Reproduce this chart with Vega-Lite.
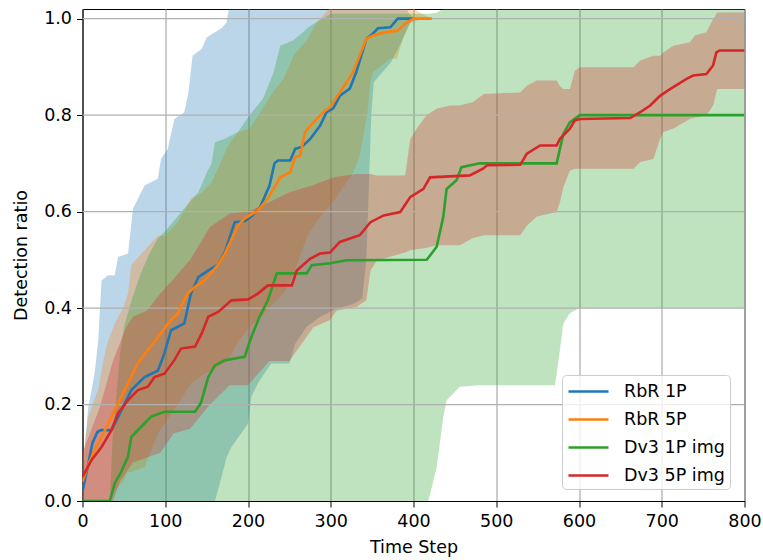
{
  "$schema": "https://vega.github.io/schema/vega-lite/v6.json",
  "width": 662,
  "height": 492,
  "autosize": {"type": "none"},
  "padding": {"left": 82.5, "top": 9, "right": 18.5, "bottom": 59},
  "config": {
    "font": "DejaVu Sans",
    "view": {"stroke": "black", "strokeWidth": 1},
    "axis": {
      "labelFont": "DejaVu Sans",
      "titleFont": "DejaVu Sans",
      "labelFontSize": 17.5,
      "titleFontSize": 17.5,
      "labelColor": "#000000",
      "titleColor": "#000000",
      "titleFontWeight": "normal",
      "domainColor": "#000000",
      "tickColor": "#000000",
      "tickSize": 6,
      "tickWidth": 1,
      "labelPadding": 5,
      "gridColor": "#b0b0b0",
      "gridWidth": 1.3,
      "gridOpacity": 1,
      "zindex": 1
    },
    "legend": {
      "labelFont": "DejaVu Sans",
      "labelFontSize": 17.5,
      "labelColor": "#000000"
    }
  },
  "datasets": {
    "ygrid": [{"g": 0.2}, {"g": 0.4}, {"g": 0.6}, {"g": 0.8}, {"g": 1.0}],
    "bands": [
      {"s": "RbR 1P", "x": 0, "lo": 0, "hi": 0.03},
      {"s": "RbR 1P", "x": 3, "lo": 0, "hi": 0.12},
      {"s": "RbR 1P", "x": 7, "lo": 0, "hi": 0.195},
      {"s": "RbR 1P", "x": 11, "lo": 0, "hi": 0.23},
      {"s": "RbR 1P", "x": 15, "lo": 0, "hi": 0.27},
      {"s": "RbR 1P", "x": 19, "lo": 0, "hi": 0.333},
      {"s": "RbR 1P", "x": 23, "lo": 0, "hi": 0.457},
      {"s": "RbR 1P", "x": 31, "lo": 0, "hi": 0.468},
      {"s": "RbR 1P", "x": 39, "lo": 0, "hi": 0.468},
      {"s": "RbR 1P", "x": 43, "lo": 0, "hi": 0.506},
      {"s": "RbR 1P", "x": 55, "lo": 0, "hi": 0.513},
      {"s": "RbR 1P", "x": 61, "lo": 0, "hi": 0.606},
      {"s": "RbR 1P", "x": 75, "lo": 0, "hi": 0.654},
      {"s": "RbR 1P", "x": 91, "lo": 0, "hi": 0.668},
      {"s": "RbR 1P", "x": 95, "lo": 0, "hi": 0.71},
      {"s": "RbR 1P", "x": 103, "lo": 0, "hi": 0.73},
      {"s": "RbR 1P", "x": 111, "lo": 0, "hi": 0.792},
      {"s": "RbR 1P", "x": 123, "lo": 0, "hi": 0.806},
      {"s": "RbR 1P", "x": 128, "lo": 0, "hi": 0.847},
      {"s": "RbR 1P", "x": 133, "lo": 0, "hi": 0.923},
      {"s": "RbR 1P", "x": 144, "lo": 0, "hi": 0.937},
      {"s": "RbR 1P", "x": 150, "lo": 0, "hi": 0.961},
      {"s": "RbR 1P", "x": 160, "lo": 0, "hi": 0.972},
      {"s": "RbR 1P", "x": 168, "lo": 0.05, "hi": 0.98},
      {"s": "RbR 1P", "x": 174, "lo": 0.09, "hi": 0.992},
      {"s": "RbR 1P", "x": 180, "lo": 0.112, "hi": 1.05},
      {"s": "RbR 1P", "x": 200, "lo": 0.16, "hi": 1.05},
      {"s": "RbR 1P", "x": 204, "lo": 0.216, "hi": 1.05},
      {"s": "RbR 1P", "x": 212, "lo": 0.244, "hi": 1.05},
      {"s": "RbR 1P", "x": 228, "lo": 0.285, "hi": 1.05},
      {"s": "RbR 1P", "x": 250, "lo": 0.285, "hi": 1.05},
      {"s": "RbR 1P", "x": 257, "lo": 0.326, "hi": 1.05},
      {"s": "RbR 1P", "x": 271, "lo": 0.361, "hi": 1.05},
      {"s": "RbR 1P", "x": 287, "lo": 0.382, "hi": 1.05},
      {"s": "RbR 1P", "x": 307, "lo": 0.399, "hi": 1.05},
      {"s": "RbR 1P", "x": 328, "lo": 0.409, "hi": 1.05},
      {"s": "RbR 1P", "x": 338, "lo": 0.42, "hi": 1.05},
      {"s": "RbR 1P", "x": 343, "lo": 0.5, "hi": 1.05},
      {"s": "RbR 1P", "x": 346, "lo": 0.65, "hi": 1.05},
      {"s": "RbR 1P", "x": 349, "lo": 0.8, "hi": 1.05},
      {"s": "RbR 1P", "x": 352, "lo": 0.868, "hi": 1.05},
      {"s": "RbR 1P", "x": 373, "lo": 0.91, "hi": 1.05},
      {"s": "RbR 1P", "x": 385, "lo": 0.95, "hi": 1.04},
      {"s": "RbR 1P", "x": 395, "lo": 0.99, "hi": 1.01},
      {"s": "RbR 1P", "x": 400, "lo": 1.0, "hi": 1.0},
      {"s": "RbR 5P", "x": 0, "lo": 0, "hi": 0.08},
      {"s": "RbR 5P", "x": 7, "lo": 0, "hi": 0.175},
      {"s": "RbR 5P", "x": 19, "lo": 0, "hi": 0.23},
      {"s": "RbR 5P", "x": 25, "lo": 0, "hi": 0.29},
      {"s": "RbR 5P", "x": 31, "lo": 0, "hi": 0.333},
      {"s": "RbR 5P", "x": 39, "lo": 0.02, "hi": 0.368},
      {"s": "RbR 5P", "x": 49, "lo": 0.04, "hi": 0.4},
      {"s": "RbR 5P", "x": 55, "lo": 0.06, "hi": 0.43},
      {"s": "RbR 5P", "x": 59, "lo": 0.06, "hi": 0.49},
      {"s": "RbR 5P", "x": 75, "lo": 0.07, "hi": 0.52},
      {"s": "RbR 5P", "x": 91, "lo": 0.14, "hi": 0.55},
      {"s": "RbR 5P", "x": 99, "lo": 0.16, "hi": 0.55},
      {"s": "RbR 5P", "x": 115, "lo": 0.2, "hi": 0.578},
      {"s": "RbR 5P", "x": 131, "lo": 0.244, "hi": 0.627},
      {"s": "RbR 5P", "x": 145, "lo": 0.26, "hi": 0.64},
      {"s": "RbR 5P", "x": 156, "lo": 0.27, "hi": 0.661},
      {"s": "RbR 5P", "x": 176, "lo": 0.29, "hi": 0.737},
      {"s": "RbR 5P", "x": 188, "lo": 0.33, "hi": 0.765},
      {"s": "RbR 5P", "x": 202, "lo": 0.36, "hi": 0.772},
      {"s": "RbR 5P", "x": 215, "lo": 0.38, "hi": 0.806},
      {"s": "RbR 5P", "x": 231, "lo": 0.41, "hi": 0.85},
      {"s": "RbR 5P", "x": 243, "lo": 0.43, "hi": 0.876},
      {"s": "RbR 5P", "x": 255, "lo": 0.47, "hi": 0.923},
      {"s": "RbR 5P", "x": 272, "lo": 0.55, "hi": 0.958},
      {"s": "RbR 5P", "x": 283, "lo": 0.58, "hi": 0.992},
      {"s": "RbR 5P", "x": 303, "lo": 0.62, "hi": 1.03},
      {"s": "RbR 5P", "x": 327, "lo": 0.68, "hi": 1.03},
      {"s": "RbR 5P", "x": 335, "lo": 0.716, "hi": 1.03},
      {"s": "RbR 5P", "x": 344, "lo": 0.8, "hi": 1.03},
      {"s": "RbR 5P", "x": 348, "lo": 0.868, "hi": 1.03},
      {"s": "RbR 5P", "x": 351, "lo": 0.889, "hi": 1.03},
      {"s": "RbR 5P", "x": 372, "lo": 0.917, "hi": 1.03},
      {"s": "RbR 5P", "x": 380, "lo": 0.917, "hi": 1.03},
      {"s": "RbR 5P", "x": 387, "lo": 0.958, "hi": 1.03},
      {"s": "RbR 5P", "x": 396, "lo": 0.99, "hi": 1.025},
      {"s": "RbR 5P", "x": 410, "lo": 1.0, "hi": 1.01},
      {"s": "RbR 5P", "x": 422, "lo": 1.0, "hi": 1.0},
      {"s": "Dv3 1P img", "x": 0, "lo": 0, "hi": 0},
      {"s": "Dv3 1P img", "x": 33, "lo": 0, "hi": 0},
      {"s": "Dv3 1P img", "x": 36, "lo": 0, "hi": 0.12},
      {"s": "Dv3 1P img", "x": 40, "lo": 0, "hi": 0.2},
      {"s": "Dv3 1P img", "x": 45, "lo": 0, "hi": 0.3},
      {"s": "Dv3 1P img", "x": 50, "lo": 0, "hi": 0.36},
      {"s": "Dv3 1P img", "x": 60, "lo": 0, "hi": 0.42},
      {"s": "Dv3 1P img", "x": 70, "lo": 0, "hi": 0.47},
      {"s": "Dv3 1P img", "x": 80, "lo": 0, "hi": 0.51},
      {"s": "Dv3 1P img", "x": 91, "lo": 0, "hi": 0.544},
      {"s": "Dv3 1P img", "x": 100, "lo": 0, "hi": 0.56},
      {"s": "Dv3 1P img", "x": 120, "lo": 0, "hi": 0.6},
      {"s": "Dv3 1P img", "x": 140, "lo": 0, "hi": 0.64},
      {"s": "Dv3 1P img", "x": 150, "lo": 0, "hi": 0.68},
      {"s": "Dv3 1P img", "x": 156, "lo": 0, "hi": 0.7},
      {"s": "Dv3 1P img", "x": 160, "lo": 0, "hi": 0.744},
      {"s": "Dv3 1P img", "x": 172, "lo": 0, "hi": 0.751},
      {"s": "Dv3 1P img", "x": 188, "lo": 0, "hi": 0.765},
      {"s": "Dv3 1P img", "x": 202, "lo": 0, "hi": 0.8},
      {"s": "Dv3 1P img", "x": 218, "lo": 0, "hi": 0.834},
      {"s": "Dv3 1P img", "x": 231, "lo": 0, "hi": 0.889},
      {"s": "Dv3 1P img", "x": 239, "lo": 0, "hi": 0.944},
      {"s": "Dv3 1P img", "x": 255, "lo": 0, "hi": 0.955},
      {"s": "Dv3 1P img", "x": 275, "lo": 0, "hi": 0.985},
      {"s": "Dv3 1P img", "x": 300, "lo": 0, "hi": 1.01},
      {"s": "Dv3 1P img", "x": 418, "lo": 0, "hi": 1.01},
      {"s": "Dv3 1P img", "x": 428, "lo": 0.07, "hi": 1.012},
      {"s": "Dv3 1P img", "x": 436, "lo": 0.174, "hi": 1.02},
      {"s": "Dv3 1P img", "x": 440, "lo": 0.209, "hi": 1.1},
      {"s": "Dv3 1P img", "x": 456, "lo": 0.237, "hi": 1.1},
      {"s": "Dv3 1P img", "x": 480, "lo": 0.24, "hi": 1.1},
      {"s": "Dv3 1P img", "x": 571, "lo": 0.24, "hi": 1.1},
      {"s": "Dv3 1P img", "x": 577, "lo": 0.313, "hi": 1.15},
      {"s": "Dv3 1P img", "x": 581, "lo": 0.368, "hi": 1.15},
      {"s": "Dv3 1P img", "x": 589, "lo": 0.389, "hi": 1.18},
      {"s": "Dv3 1P img", "x": 597, "lo": 0.397, "hi": 1.2},
      {"s": "Dv3 1P img", "x": 601, "lo": 0.4, "hi": 1.2},
      {"s": "Dv3 1P img", "x": 800, "lo": 0.4, "hi": 1.2},
      {"s": "Dv3 5P img", "x": 0, "lo": 0, "hi": 0.1},
      {"s": "Dv3 5P img", "x": 21, "lo": 0, "hi": 0.195},
      {"s": "Dv3 5P img", "x": 37, "lo": 0, "hi": 0.292},
      {"s": "Dv3 5P img", "x": 45, "lo": 0.04, "hi": 0.326},
      {"s": "Dv3 5P img", "x": 53, "lo": 0.06, "hi": 0.361},
      {"s": "Dv3 5P img", "x": 61, "lo": 0.08, "hi": 0.382},
      {"s": "Dv3 5P img", "x": 78, "lo": 0.09, "hi": 0.395},
      {"s": "Dv3 5P img", "x": 94, "lo": 0.1, "hi": 0.43},
      {"s": "Dv3 5P img", "x": 110, "lo": 0.14, "hi": 0.46},
      {"s": "Dv3 5P img", "x": 130, "lo": 0.15, "hi": 0.5},
      {"s": "Dv3 5P img", "x": 154, "lo": 0.2, "hi": 0.568},
      {"s": "Dv3 5P img", "x": 178, "lo": 0.24, "hi": 0.596},
      {"s": "Dv3 5P img", "x": 200, "lo": 0.24, "hi": 0.6},
      {"s": "Dv3 5P img", "x": 226, "lo": 0.29, "hi": 0.62},
      {"s": "Dv3 5P img", "x": 250, "lo": 0.29, "hi": 0.64},
      {"s": "Dv3 5P img", "x": 279, "lo": 0.36, "hi": 0.655},
      {"s": "Dv3 5P img", "x": 299, "lo": 0.375, "hi": 0.668},
      {"s": "Dv3 5P img", "x": 307, "lo": 0.395, "hi": 0.672},
      {"s": "Dv3 5P img", "x": 331, "lo": 0.402, "hi": 0.678},
      {"s": "Dv3 5P img", "x": 343, "lo": 0.416, "hi": 0.678},
      {"s": "Dv3 5P img", "x": 348, "lo": 0.478, "hi": 0.678},
      {"s": "Dv3 5P img", "x": 356, "lo": 0.499, "hi": 0.675},
      {"s": "Dv3 5P img", "x": 390, "lo": 0.515, "hi": 0.675},
      {"s": "Dv3 5P img", "x": 396, "lo": 0.52, "hi": 0.75},
      {"s": "Dv3 5P img", "x": 404, "lo": 0.522, "hi": 0.772},
      {"s": "Dv3 5P img", "x": 416, "lo": 0.525, "hi": 0.8},
      {"s": "Dv3 5P img", "x": 428, "lo": 0.53, "hi": 0.813},
      {"s": "Dv3 5P img", "x": 444, "lo": 0.53, "hi": 0.82},
      {"s": "Dv3 5P img", "x": 456, "lo": 0.53, "hi": 0.82},
      {"s": "Dv3 5P img", "x": 472, "lo": 0.545, "hi": 0.827},
      {"s": "Dv3 5P img", "x": 485, "lo": 0.551, "hi": 0.844},
      {"s": "Dv3 5P img", "x": 529, "lo": 0.551, "hi": 0.847},
      {"s": "Dv3 5P img", "x": 537, "lo": 0.571, "hi": 0.861},
      {"s": "Dv3 5P img", "x": 549, "lo": 0.59, "hi": 0.872},
      {"s": "Dv3 5P img", "x": 573, "lo": 0.599, "hi": 0.872},
      {"s": "Dv3 5P img", "x": 577, "lo": 0.62, "hi": 0.86},
      {"s": "Dv3 5P img", "x": 581, "lo": 0.65, "hi": 0.854},
      {"s": "Dv3 5P img", "x": 589, "lo": 0.685, "hi": 0.854},
      {"s": "Dv3 5P img", "x": 595, "lo": 0.689, "hi": 0.892},
      {"s": "Dv3 5P img", "x": 601, "lo": 0.689, "hi": 0.899},
      {"s": "Dv3 5P img", "x": 666, "lo": 0.689, "hi": 0.899},
      {"s": "Dv3 5P img", "x": 674, "lo": 0.703, "hi": 0.913},
      {"s": "Dv3 5P img", "x": 690, "lo": 0.709, "hi": 0.923},
      {"s": "Dv3 5P img", "x": 698, "lo": 0.751, "hi": 0.923},
      {"s": "Dv3 5P img", "x": 702, "lo": 0.765, "hi": 0.93},
      {"s": "Dv3 5P img", "x": 714, "lo": 0.772, "hi": 0.944},
      {"s": "Dv3 5P img", "x": 734, "lo": 0.792, "hi": 0.951},
      {"s": "Dv3 5P img", "x": 740, "lo": 0.795, "hi": 0.965},
      {"s": "Dv3 5P img", "x": 754, "lo": 0.799, "hi": 0.972},
      {"s": "Dv3 5P img", "x": 762, "lo": 0.82, "hi": 0.999},
      {"s": "Dv3 5P img", "x": 767, "lo": 0.854, "hi": 1.013},
      {"s": "Dv3 5P img", "x": 800, "lo": 0.854, "hi": 1.013}
    ],
    "lines": [
      {"s": "RbR 1P", "x": 0, "y": 0.02},
      {"s": "RbR 1P", "x": 5, "y": 0.06},
      {"s": "RbR 1P", "x": 12, "y": 0.12},
      {"s": "RbR 1P", "x": 18, "y": 0.143},
      {"s": "RbR 1P", "x": 22, "y": 0.147},
      {"s": "RbR 1P", "x": 35, "y": 0.147},
      {"s": "RbR 1P", "x": 47, "y": 0.188},
      {"s": "RbR 1P", "x": 59, "y": 0.23},
      {"s": "RbR 1P", "x": 75, "y": 0.257},
      {"s": "RbR 1P", "x": 91, "y": 0.27},
      {"s": "RbR 1P", "x": 99, "y": 0.306},
      {"s": "RbR 1P", "x": 107, "y": 0.354},
      {"s": "RbR 1P", "x": 123, "y": 0.368},
      {"s": "RbR 1P", "x": 131, "y": 0.43},
      {"s": "RbR 1P", "x": 140, "y": 0.464},
      {"s": "RbR 1P", "x": 152, "y": 0.478},
      {"s": "RbR 1P", "x": 164, "y": 0.49},
      {"s": "RbR 1P", "x": 172, "y": 0.516},
      {"s": "RbR 1P", "x": 184, "y": 0.578},
      {"s": "RbR 1P", "x": 196, "y": 0.58},
      {"s": "RbR 1P", "x": 204, "y": 0.59},
      {"s": "RbR 1P", "x": 214, "y": 0.607},
      {"s": "RbR 1P", "x": 226, "y": 0.654},
      {"s": "RbR 1P", "x": 232, "y": 0.7},
      {"s": "RbR 1P", "x": 236, "y": 0.706},
      {"s": "RbR 1P", "x": 251, "y": 0.706},
      {"s": "RbR 1P", "x": 257, "y": 0.73},
      {"s": "RbR 1P", "x": 265, "y": 0.734},
      {"s": "RbR 1P", "x": 275, "y": 0.75},
      {"s": "RbR 1P", "x": 287, "y": 0.778},
      {"s": "RbR 1P", "x": 295, "y": 0.806},
      {"s": "RbR 1P", "x": 303, "y": 0.814},
      {"s": "RbR 1P", "x": 311, "y": 0.84},
      {"s": "RbR 1P", "x": 323, "y": 0.855},
      {"s": "RbR 1P", "x": 331, "y": 0.89},
      {"s": "RbR 1P", "x": 343, "y": 0.958},
      {"s": "RbR 1P", "x": 351, "y": 0.969},
      {"s": "RbR 1P", "x": 357, "y": 0.98},
      {"s": "RbR 1P", "x": 372, "y": 0.982},
      {"s": "RbR 1P", "x": 381, "y": 1.0},
      {"s": "RbR 1P", "x": 400, "y": 1.0},
      {"s": "RbR 5P", "x": 0, "y": 0.04},
      {"s": "RbR 5P", "x": 8, "y": 0.08},
      {"s": "RbR 5P", "x": 15, "y": 0.106},
      {"s": "RbR 5P", "x": 31, "y": 0.16},
      {"s": "RbR 5P", "x": 43, "y": 0.203},
      {"s": "RbR 5P", "x": 55, "y": 0.244},
      {"s": "RbR 5P", "x": 67, "y": 0.286},
      {"s": "RbR 5P", "x": 79, "y": 0.313},
      {"s": "RbR 5P", "x": 95, "y": 0.348},
      {"s": "RbR 5P", "x": 103, "y": 0.368},
      {"s": "RbR 5P", "x": 115, "y": 0.389},
      {"s": "RbR 5P", "x": 127, "y": 0.43},
      {"s": "RbR 5P", "x": 136, "y": 0.444},
      {"s": "RbR 5P", "x": 148, "y": 0.458},
      {"s": "RbR 5P", "x": 164, "y": 0.49},
      {"s": "RbR 5P", "x": 172, "y": 0.513},
      {"s": "RbR 5P", "x": 188, "y": 0.571},
      {"s": "RbR 5P", "x": 196, "y": 0.586},
      {"s": "RbR 5P", "x": 212, "y": 0.602},
      {"s": "RbR 5P", "x": 224, "y": 0.627},
      {"s": "RbR 5P", "x": 239, "y": 0.671},
      {"s": "RbR 5P", "x": 251, "y": 0.682},
      {"s": "RbR 5P", "x": 257, "y": 0.713},
      {"s": "RbR 5P", "x": 263, "y": 0.716},
      {"s": "RbR 5P", "x": 269, "y": 0.765},
      {"s": "RbR 5P", "x": 279, "y": 0.785},
      {"s": "RbR 5P", "x": 291, "y": 0.806},
      {"s": "RbR 5P", "x": 299, "y": 0.816},
      {"s": "RbR 5P", "x": 311, "y": 0.847},
      {"s": "RbR 5P", "x": 327, "y": 0.889},
      {"s": "RbR 5P", "x": 343, "y": 0.958},
      {"s": "RbR 5P", "x": 351, "y": 0.965},
      {"s": "RbR 5P", "x": 366, "y": 0.972},
      {"s": "RbR 5P", "x": 381, "y": 0.975},
      {"s": "RbR 5P", "x": 390, "y": 0.99},
      {"s": "RbR 5P", "x": 400, "y": 1.0},
      {"s": "RbR 5P", "x": 422, "y": 1.0},
      {"s": "Dv3 1P img", "x": 0, "y": 0},
      {"s": "Dv3 1P img", "x": 33, "y": 0},
      {"s": "Dv3 1P img", "x": 39, "y": 0.037},
      {"s": "Dv3 1P img", "x": 46, "y": 0.058},
      {"s": "Dv3 1P img", "x": 55, "y": 0.092},
      {"s": "Dv3 1P img", "x": 59, "y": 0.133},
      {"s": "Dv3 1P img", "x": 71, "y": 0.154},
      {"s": "Dv3 1P img", "x": 83, "y": 0.175},
      {"s": "Dv3 1P img", "x": 99, "y": 0.185},
      {"s": "Dv3 1P img", "x": 136, "y": 0.185},
      {"s": "Dv3 1P img", "x": 143, "y": 0.203},
      {"s": "Dv3 1P img", "x": 152, "y": 0.257},
      {"s": "Dv3 1P img", "x": 160, "y": 0.281},
      {"s": "Dv3 1P img", "x": 172, "y": 0.292},
      {"s": "Dv3 1P img", "x": 196, "y": 0.299},
      {"s": "Dv3 1P img", "x": 204, "y": 0.34},
      {"s": "Dv3 1P img", "x": 214, "y": 0.382},
      {"s": "Dv3 1P img", "x": 224, "y": 0.416},
      {"s": "Dv3 1P img", "x": 232, "y": 0.458},
      {"s": "Dv3 1P img", "x": 235, "y": 0.472},
      {"s": "Dv3 1P img", "x": 271, "y": 0.472},
      {"s": "Dv3 1P img", "x": 277, "y": 0.489},
      {"s": "Dv3 1P img", "x": 299, "y": 0.493},
      {"s": "Dv3 1P img", "x": 319, "y": 0.499},
      {"s": "Dv3 1P img", "x": 416, "y": 0.5},
      {"s": "Dv3 1P img", "x": 428, "y": 0.527},
      {"s": "Dv3 1P img", "x": 436, "y": 0.589},
      {"s": "Dv3 1P img", "x": 440, "y": 0.647},
      {"s": "Dv3 1P img", "x": 452, "y": 0.665},
      {"s": "Dv3 1P img", "x": 458, "y": 0.692},
      {"s": "Dv3 1P img", "x": 480, "y": 0.7},
      {"s": "Dv3 1P img", "x": 573, "y": 0.7},
      {"s": "Dv3 1P img", "x": 581, "y": 0.761},
      {"s": "Dv3 1P img", "x": 589, "y": 0.785},
      {"s": "Dv3 1P img", "x": 601, "y": 0.8},
      {"s": "Dv3 1P img", "x": 800, "y": 0.8},
      {"s": "Dv3 5P img", "x": 0, "y": 0.05},
      {"s": "Dv3 5P img", "x": 11, "y": 0.085},
      {"s": "Dv3 5P img", "x": 23, "y": 0.112},
      {"s": "Dv3 5P img", "x": 35, "y": 0.147},
      {"s": "Dv3 5P img", "x": 43, "y": 0.182},
      {"s": "Dv3 5P img", "x": 55, "y": 0.209},
      {"s": "Dv3 5P img", "x": 67, "y": 0.23},
      {"s": "Dv3 5P img", "x": 79, "y": 0.237},
      {"s": "Dv3 5P img", "x": 87, "y": 0.257},
      {"s": "Dv3 5P img", "x": 99, "y": 0.264},
      {"s": "Dv3 5P img", "x": 111, "y": 0.292},
      {"s": "Dv3 5P img", "x": 119, "y": 0.316},
      {"s": "Dv3 5P img", "x": 136, "y": 0.32},
      {"s": "Dv3 5P img", "x": 144, "y": 0.347},
      {"s": "Dv3 5P img", "x": 152, "y": 0.382},
      {"s": "Dv3 5P img", "x": 164, "y": 0.392},
      {"s": "Dv3 5P img", "x": 180, "y": 0.416},
      {"s": "Dv3 5P img", "x": 200, "y": 0.418},
      {"s": "Dv3 5P img", "x": 212, "y": 0.43},
      {"s": "Dv3 5P img", "x": 224, "y": 0.447},
      {"s": "Dv3 5P img", "x": 253, "y": 0.447},
      {"s": "Dv3 5P img", "x": 259, "y": 0.478},
      {"s": "Dv3 5P img", "x": 275, "y": 0.502},
      {"s": "Dv3 5P img", "x": 287, "y": 0.513},
      {"s": "Dv3 5P img", "x": 299, "y": 0.515},
      {"s": "Dv3 5P img", "x": 311, "y": 0.537},
      {"s": "Dv3 5P img", "x": 335, "y": 0.551},
      {"s": "Dv3 5P img", "x": 348, "y": 0.578},
      {"s": "Dv3 5P img", "x": 364, "y": 0.592},
      {"s": "Dv3 5P img", "x": 384, "y": 0.599},
      {"s": "Dv3 5P img", "x": 396, "y": 0.63},
      {"s": "Dv3 5P img", "x": 412, "y": 0.647},
      {"s": "Dv3 5P img", "x": 420, "y": 0.671},
      {"s": "Dv3 5P img", "x": 468, "y": 0.675},
      {"s": "Dv3 5P img", "x": 484, "y": 0.689},
      {"s": "Dv3 5P img", "x": 489, "y": 0.696},
      {"s": "Dv3 5P img", "x": 529, "y": 0.697},
      {"s": "Dv3 5P img", "x": 537, "y": 0.72},
      {"s": "Dv3 5P img", "x": 553, "y": 0.737},
      {"s": "Dv3 5P img", "x": 573, "y": 0.737},
      {"s": "Dv3 5P img", "x": 577, "y": 0.751},
      {"s": "Dv3 5P img", "x": 589, "y": 0.772},
      {"s": "Dv3 5P img", "x": 595, "y": 0.789},
      {"s": "Dv3 5P img", "x": 601, "y": 0.792},
      {"s": "Dv3 5P img", "x": 662, "y": 0.794},
      {"s": "Dv3 5P img", "x": 674, "y": 0.806},
      {"s": "Dv3 5P img", "x": 686, "y": 0.82},
      {"s": "Dv3 5P img", "x": 698, "y": 0.84},
      {"s": "Dv3 5P img", "x": 710, "y": 0.854},
      {"s": "Dv3 5P img", "x": 730, "y": 0.875},
      {"s": "Dv3 5P img", "x": 738, "y": 0.882},
      {"s": "Dv3 5P img", "x": 754, "y": 0.885},
      {"s": "Dv3 5P img", "x": 762, "y": 0.903},
      {"s": "Dv3 5P img", "x": 766, "y": 0.93},
      {"s": "Dv3 5P img", "x": 770, "y": 0.934},
      {"s": "Dv3 5P img", "x": 800, "y": 0.934}
    ]
  },
  "layer": [
    {
      "data": {"name": "bands"},
      "transform": [{"filter": "datum.s === 'RbR 1P'"}],
      "mark": {"type": "area", "color": "#1f77b4", "fillOpacity": 0.3, "clip": true},
      "encoding": {
        "x": {
          "field": "x",
          "type": "quantitative",
          "scale": {"domain": [0, 800], "nice": false, "zero": false},
          "axis": {"title": "Time Step", "values": [0, 100, 200, 300, 400, 500, 600, 700, 800], "titlePadding": 9, "labelFlush": false}
        },
        "y": {"field": "lo", "type": "quantitative", "scale": {"domain": [0, 1.02], "nice": false}, "axis": {"title": "Detection ratio", "values": [0, 0.2, 0.4, 0.6, 0.8, 1.0], "format": ".1f", "titlePadding": 13, "labelFlush": false, "grid": false}},
        "y2": {"field": "hi"}
      }
    },
    {
      "data": {"name": "bands"},
      "transform": [{"filter": "datum.s === 'RbR 5P'"}],
      "mark": {"type": "area", "color": "#ff7f0e", "fillOpacity": 0.3, "clip": true},
      "encoding": {"x": {"field": "x", "type": "quantitative"}, "y": {"field": "lo", "type": "quantitative"}, "y2": {"field": "hi"}}
    },
    {
      "data": {"name": "bands"},
      "transform": [{"filter": "datum.s === 'Dv3 1P img'"}],
      "mark": {"type": "area", "color": "#2ca02c", "fillOpacity": 0.3, "clip": true},
      "encoding": {"x": {"field": "x", "type": "quantitative"}, "y": {"field": "lo", "type": "quantitative"}, "y2": {"field": "hi"}}
    },
    {
      "data": {"name": "bands"},
      "transform": [{"filter": "datum.s === 'Dv3 5P img'"}],
      "mark": {"type": "area", "color": "#d62728", "fillOpacity": 0.3, "clip": true},
      "encoding": {"x": {"field": "x", "type": "quantitative"}, "y": {"field": "lo", "type": "quantitative"}, "y2": {"field": "hi"}}
    },
    {
      "data": {"name": "ygrid"},
      "mark": {"type": "rule", "color": "#b0b0b0", "strokeWidth": 1.3},
      "encoding": {"y": {"field": "g", "type": "quantitative"}}
    },
    {
      "data": {"name": "lines"},
      "mark": {"type": "line", "strokeWidth": 2.6, "clip": true},
      "encoding": {
        "x": {"field": "x", "type": "quantitative"},
        "y": {"field": "y", "type": "quantitative"},
        "color": {
          "field": "s",
          "type": "nominal",
          "scale": {"domain": ["RbR 1P", "RbR 5P", "Dv3 1P img", "Dv3 5P img"], "range": ["#1f77b4", "#ff7f0e", "#2ca02c", "#d62728"]},
          "legend": {
            "title": null,
            "orient": "none",
            "legendX": 479.5,
            "legendY": 366,
            "zindex": 2,
            "symbolType": "M-1,0H3",
            "symbolSize": 400,
            "symbolStrokeWidth": 2.6,
            "symbolFillColor": "transparent",
            "labelOffset": 34,
            "rowPadding": 8,
            "padding": 5,
            "fillColor": "rgba(255,255,255,0.8)",
            "strokeColor": "#cccccc",
            "cornerRadius": 4
          }
        }
      }
    }
  ]
}
